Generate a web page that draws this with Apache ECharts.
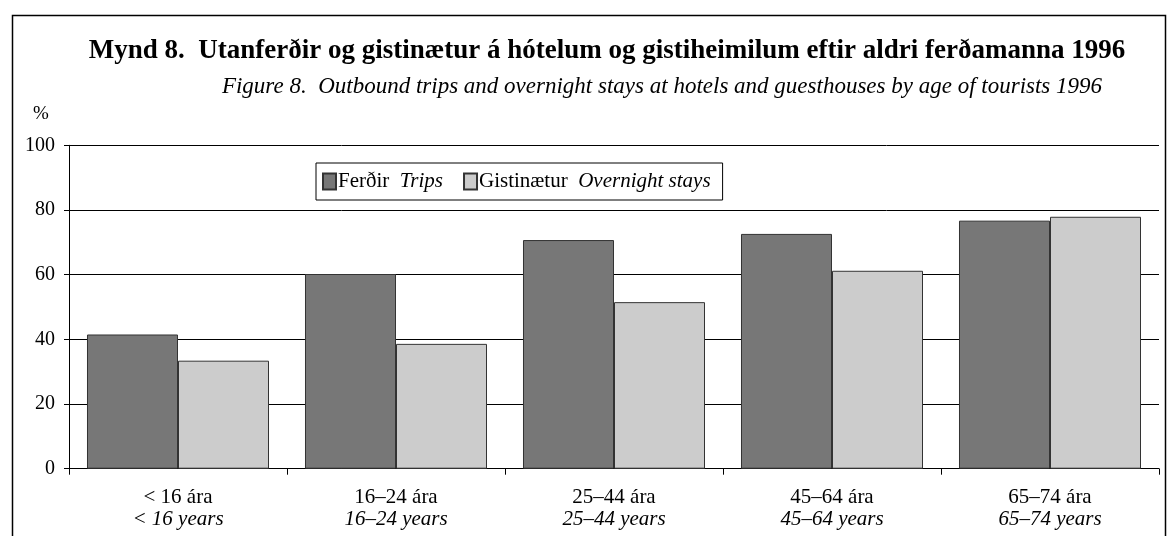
<!DOCTYPE html>
<html><head><meta charset="utf-8">
<script src="https://cdn.jsdelivr.net/npm/echarts@6/dist/echarts.min.js"></script>
<style>html,body{margin:0;padding:0;background:#fff}#c{width:1168px;height:536px}</style>
</head><body><div id="c"></div>
<script>
const categoriesIs = ['< 16 ára', '16–24 ára', '25–44 ára', '45–64 ára', '65–74 ára'];
const categoriesEn = ['< 16 years', '16–24 years', '25–44 years', '45–64 years', '65–74 years'];
const trips = [41.5, 60.2, 70.7, 72.6, 76.7];
const stays = [33.4, 38.6, 51.5, 61.2, 77.9];
const seriesIs = ['Ferðir', 'Gistinætur'];
const seriesEn = ['Trips', 'Overnight stays'];
const titleIs = 'Mynd 8.  Utanferðir og gistinætur á hótelum og gistiheimilum eftir aldri ferðamanna 1996';
const titleEn = 'Figure 8.  Outbound trips and overnight stays at hotels and guesthouses by age of tourists 1996';

const F = '"Liberation Serif","Times New Roman",serif';
const chart = echarts.init(document.getElementById('c'), null, {renderer: 'canvas'});
chart.setOption({
  animation: false,
  textStyle: {fontFamily: F, color: '#000'},
  graphic: [
    {type: 'rect', shape: {x: 12.5, y: 15.5, width: 1153, height: 540}, style: {fill: 'none', stroke: '#000', lineWidth: 1.5}, z: 0},
    {type: 'text', x: 607, y: 51, style: {text: titleIs, font: 'bold 27px ' + F, fill: '#000', textAlign: 'center', textVerticalAlign: 'middle'}},
    {type: 'text', x: 662, y: 87, style: {text: titleEn, font: 'italic 23px ' + F, fill: '#000', textAlign: 'center', textVerticalAlign: 'middle'}},
    {type: 'text', x: 41, y: 114, style: {text: '%', font: '19px ' + F, fill: '#000', textAlign: 'center', textVerticalAlign: 'middle'}}
  ],
  legend: {
    left: 316, top: 163,
    padding: [8, 12, 8, 6],
    itemGap: 20,
    itemWidth: 13, itemHeight: 16,
    borderColor: '#000', borderWidth: 1,
    backgroundColor: '#fff',
    icon: 'rect',
    data: seriesIs,
    formatter: function (n) { const i = seriesIs.indexOf(n); return '{n|' + n + '}  {e|' + seriesEn[i] + '}'; },
    textStyle: {
      fontFamily: F, fontSize: 21, color: '#000', padding: [0, 0, 0, -3],
      rich: {n: {fontFamily: F, fontSize: 21, color: '#000'}, e: {fontFamily: F, fontSize: 21, fontStyle: 'italic', color: '#000'}}
    }
  },
  grid: {left: 69, right: 9, top: 145.3, bottom: 67.3},
  xAxis: {
    type: 'category', data: categoriesIs,
    axisLine: {lineStyle: {color: '#000', width: 1}},
    axisTick: {show: true, length: 6, lineStyle: {color: '#000'}},
    axisLabel: {
      margin: 18, lineHeight: 22,
      formatter: function (v, idx) { return '{a|' + v + '}\n{b|' + categoriesEn[idx] + '}'; },
      rich: {a: {fontFamily: F, fontSize: 21, color: '#000', lineHeight: 22}, b: {fontFamily: F, fontSize: 21, fontStyle: 'italic', color: '#000', lineHeight: 22}}
    }
  },
  yAxis: {
    type: 'value', min: 0, max: 100, interval: 20,
    axisLine: {show: true, lineStyle: {color: '#000', width: 1}},
    axisTick: {show: true, length: 5, lineStyle: {color: '#000'}},
    axisLabel: {fontFamily: F, fontSize: 20, color: '#000', margin: 14},
    splitLine: {show: true, lineStyle: {color: '#000', width: 1}}
  },
  series: [
    {name: seriesIs[0], type: 'bar', data: trips, barGap: '0%', barCategoryGap: '16.5%',
     itemStyle: {color: '#777777', borderColor: '#333', borderWidth: 1}},
    {name: seriesIs[1], type: 'bar', data: stays, barGap: '0%', barCategoryGap: '16.5%',
     itemStyle: {color: '#cccccc', borderColor: '#333', borderWidth: 1}}
  ]
});
</script></body></html>
